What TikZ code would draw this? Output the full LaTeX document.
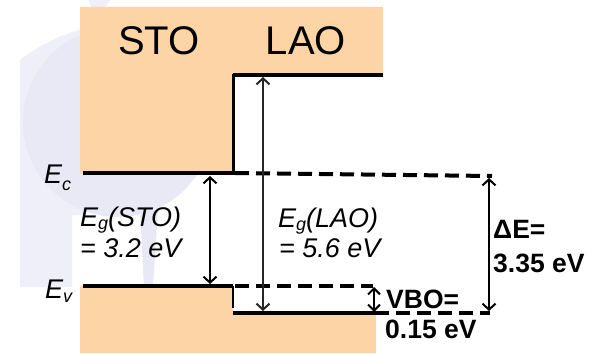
\documentclass[tikz,border=0pt]{standalone}
\usepackage{fontspec}
\setmainfont{Liberation Sans}
\usetikzlibrary{arrows.meta}
\definecolor{orng}{RGB}{253,212,166}
\definecolor{wm}{RGB}{238,239,248}
\definecolor{wmd}{RGB}{232,233,245}
\newcommand{\mylow}[3]{\raisebox{-#2}{\fontsize{#1}{#1}\selectfont #3}}
\begin{document}
\begin{tikzpicture}[x=1pt,y=-1pt,
  band/.style={line width=4pt},
  dband/.style={line width=4pt, dash pattern=on 14pt off 7pt},
  gaparrow/.style={line width=1.4pt, {Straight Barb[length=6pt,width=13pt,line width=2pt]}-{Straight Barb[length=6pt,width=13pt,line width=2pt]}},
  lbl/.style={inner sep=0pt, anchor=base west},
  itl/.style={lbl, font=\fontsize{27}{32}\selectfont\itshape},
  bld/.style={lbl, font=\fontsize{26.5}{32}\selectfont\bfseries},
  elbl/.style={lbl, font=\fontsize{27}{32}\selectfont\itshape},
]
\useasboundingbox (0,0) rectangle (599,353);
% faint watermark
\fill[wm] (20,287) -- (20,60) .. controls (40,45) and (60,35) .. (85,28) -- (85,215) -- (72,215) -- (72,287) -- cycle;
\fill[wmd] (118,122) circle (95);
\fill[wmd] (140,210) -- (158,210) -- (153,287) -- (144,287) -- cycle;
\fill[wm] (88,0) -- (110,0) -- (105,8) -- (92,8) -- cycle;
% orange regions
\fill[orng] (80,7) -- (383,7) -- (383,75) -- (233,75) -- (233,173) -- (80,173) -- cycle;
\fill[orng] (80,353) -- (80,286) -- (233,286) -- (233,313) -- (376,313) -- (376,353) -- cycle;
% band coordinates
\coordinate (stoEcL) at (83,173);
\coordinate (stoEcR) at (233,173);
\coordinate (laoEcL) at (233,75);
\coordinate (laoEcR) at (383,75);
\coordinate (dEcR) at (492,176);
\coordinate (stoEvL) at (83,286);
\coordinate (stoEvR) at (233,286);
\coordinate (stepEv) at (233,308);
\coordinate (dEvR) at (373,286);
\coordinate (laoEvL) at (233,313);
\coordinate (laoEvR) at (375,313);
\coordinate (dEv2R) at (490,313);
% bands
\draw[band] (stoEcL) -- (stoEcR);
\draw[line width=3pt, line cap=rect] (stoEcR) -- (laoEcL);
\draw[band] (laoEcL) -- (laoEcR);
\draw[dband] ([xshift=2pt]stoEcR) -- (dEcR);
\draw[band] (stoEvL) -- (stoEvR);
\draw[dband] ([xshift=2pt]stoEvR) -- (dEvR);
\draw[line width=2pt] (stoEvR) -- (stepEv);
\draw[band] (laoEvL) -- (laoEvR);
\draw[dband] (laoEvR) -- (dEv2R);
% arrows
\coordinate (gS1) at (210,176);
\coordinate (gS2) at (210,284);
\coordinate (gL1) at (263,77);
\coordinate (gL2) at (263,311);
\coordinate (dE1) at (489,178);
\coordinate (dE2) at (489,311);
\coordinate (v1) at (374,287);
\coordinate (v2) at (374,312);
\draw[gaparrow] (gS1) -- (gS2);
\draw[gaparrow, line width=1.1pt, draw=black!85] (gL1) -- (gL2);
\draw[gaparrow] (dE1) -- (dE2);
\draw[line width=1.3pt, {Straight Barb[length=6pt,width=12pt,line width=2pt]}-{Straight Barb[length=6pt,width=12pt,line width=2pt]}] (v1) -- (v2);
% labels
\node[inner sep=0pt, anchor=base, font=\fontsize{40}{48}\selectfont] (sto) at (159,55) {STO};
\node[inner sep=0pt, anchor=base, font=\fontsize{40}{48}\selectfont] (lao) at (306,55) {LAO};
\node[elbl] (ec) at (44,183) {E\mylow{18}{7pt}{c}};
\node[elbl] (ev) at (45,298) {E\mylow{18}{4pt}{v}};
\node[itl] (egsto) at (80,226) {E\mylow{18}{3pt}{g}(STO)};
\node[itl] (eqsto) at (80,257) {= 3.2 eV};
\node[itl] (eglao) at (278,227) {E\mylow{18}{3pt}{g}(LAO)};
\node[itl] (eqlao) at (279,257) {= 5.6 eV};
\node[bld] (de) at (493,238) {ΔE=};
\node[bld] (de2) at (493,272) {3.35 eV};
\node[bld] (vbo) at (386,308) {VBO=};
\node[bld] (vbo2) at (385,338) {0.15 eV};
\end{tikzpicture}
\end{document}
